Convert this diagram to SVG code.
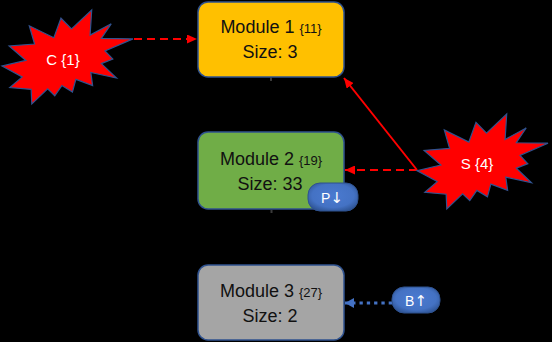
<svg xmlns="http://www.w3.org/2000/svg" width="552" height="342" viewBox="0 0 552 342">
  <style>
    .module { stroke: #2F528F; stroke-width: 1.5; }
    .burst { fill: #FF0000; stroke: #2F528F; stroke-width: 1.2; stroke-linejoin: miter; vector-effect: non-scaling-stroke; }
    .badge { fill: url(#badgeFill); stroke: #2F528F; stroke-width: 1; }
    .title { font-family: "Liberation Sans", Arial, sans-serif; font-size: 18px; fill: #111111; text-anchor: middle; }
    .idx { font-size: 13px; }
    .burstLabel { font-family: "Liberation Sans", Arial, sans-serif; font-size: 15px; fill: #FFFFFF; text-anchor: middle; }
    .badgeLabel { font-family: "Liberation Sans", "DejaVu Sans", sans-serif; font-size: 14px; fill: #FFFFFF; text-anchor: middle; }
    .arrowGlyph { font-family: "DejaVu Sans", sans-serif; font-size: 15px; }
    .red { stroke: #FF0000; stroke-width: 2; fill: none; }
    .dashed { stroke-dasharray: 8 5; }
    .dotted { stroke: #4472C4; stroke-width: 3; fill: none; stroke-dasharray: 3.3 4; }
    .stub { stroke: #3A3A3A; stroke-width: 2; }
  </style>
  <defs>
    <radialGradient id="badgeFill" cx="50%" cy="45%" r="60%">
      <stop offset="0" stop-color="#4A7AD0"/>
      <stop offset="0.7" stop-color="#4472C4"/>
      <stop offset="1" stop-color="#2F5596"/>
    </radialGradient>
    <marker id="redHead" markerUnits="userSpaceOnUse" markerWidth="11" markerHeight="9" refX="10" refY="4.5" orient="auto">
      <path d="M0,0 L10,4.5 L0,9 Z" fill="#FF0000"/>
    </marker>
    <marker id="blueHead" markerUnits="userSpaceOnUse" markerWidth="10" markerHeight="10" refX="9" refY="5" orient="auto">
      <path d="M0,0 L9,5 L0,10 Z" fill="#4472C4"/>
    </marker>
  </defs>

  <rect x="0" y="0" width="552" height="342" fill="#000000"/>

  <!-- connectors -->
  <g id="connectors">
    <line class="stub" x1="271" y1="77.5" x2="271" y2="81"/>
    <line class="stub" x1="271.5" y1="210" x2="271.5" y2="213"/>
    <line class="red dashed" x1="134" y1="39" x2="197" y2="39" marker-end="url(#redHead)"/>
    <line class="red dashed" x1="417" y1="170" x2="345" y2="170" marker-end="url(#redHead)"/>
    <line class="red" x1="417" y1="170" x2="344" y2="78" marker-end="url(#redHead)"/>
    <line class="dotted" x1="392" y1="303" x2="345" y2="303" marker-end="url(#blueHead)"/>
  </g>

  <g id="module1">
    <rect class="module" x="198" y="2" width="146" height="75" rx="10" fill="#FFC000"/>
    <text class="title" x="271" y="33">Module 1 <tspan class="idx">{11}</tspan></text>
    <text class="title" x="270" y="58">Size: 3</text>
  </g>

  <g id="module2">
    <rect class="module" x="198" y="132" width="146" height="77" rx="10" fill="#70AD47"/>
    <text class="title" x="271" y="165">Module 2 <tspan class="idx">{19}</tspan></text>
    <text class="title" x="270" y="190">Size: 33</text>
  </g>

  <g id="module3">
    <rect class="module" x="198" y="265" width="146" height="75" rx="10" fill="#A5A5A5"/>
    <text class="title" x="271" y="297">Module 3 <tspan class="idx">{27}</tspan></text>
    <text class="title" x="270" y="322">Size: 2</text>
  </g>

  <g id="badgeP">
    <rect class="badge" x="308" y="183" width="50" height="28" rx="12"/>
    <text class="badgeLabel" x="332" y="203">P<tspan class="arrowGlyph">↓</tspan></text>
  </g>

  <g id="badgeB">
    <rect class="badge" x="392" y="287" width="48" height="26" rx="12"/>
    <text class="badgeLabel" x="416" y="306">B<tspan class="arrowGlyph">↑</tspan></text>
  </g>

  <!-- explosion outlines drawn on a 216 x 216 grid, then scaled -->
  <g id="burstC">
    <path class="burst" transform="translate(2,10) scale(0.6065,0.4352)" d="M114.62 43.42 L147.9 0 L145.25 57.77 L180.07 31.72 L163.8 65.32 L216 66.45 L169.85 94.02 L182.7 112.9 L163.8 123.1 L188.77 156.32 L146.4 143.5 L149.42 173.7 L121.8 159.35 L116.12 188.42 L98.72 173.7 L87 197.12 L75.27 181.25 L49.17 216 L48.05 182.4 L12.85 178.25 L33.3 153.7 L0 128.77 L39.35 115.92 L11.72 82.7 L53.72 78.17 L45.02 36.25 L85.5 63.82 L97.22 18.87 Z"/>
    <text class="burstLabel" x="63" y="65">C {1}</text>
  </g>

  <g id="burstS">
    <path class="burst" transform="translate(417,114) scale(0.6065,0.4398)" d="M114.62 43.42 L147.9 0 L145.25 57.77 L180.07 31.72 L163.8 65.32 L216 66.45 L169.85 94.02 L182.7 112.9 L163.8 123.1 L188.77 156.32 L146.4 143.5 L149.42 173.7 L121.8 159.35 L116.12 188.42 L98.72 173.7 L87 197.12 L75.27 181.25 L49.17 216 L48.05 182.4 L12.85 178.25 L33.3 153.7 L0 128.77 L39.35 115.92 L11.72 82.7 L53.72 78.17 L45.02 36.25 L85.5 63.82 L97.22 18.87 Z"/>
    <text class="burstLabel" x="477" y="169">S {4}</text>
  </g>
</svg>
